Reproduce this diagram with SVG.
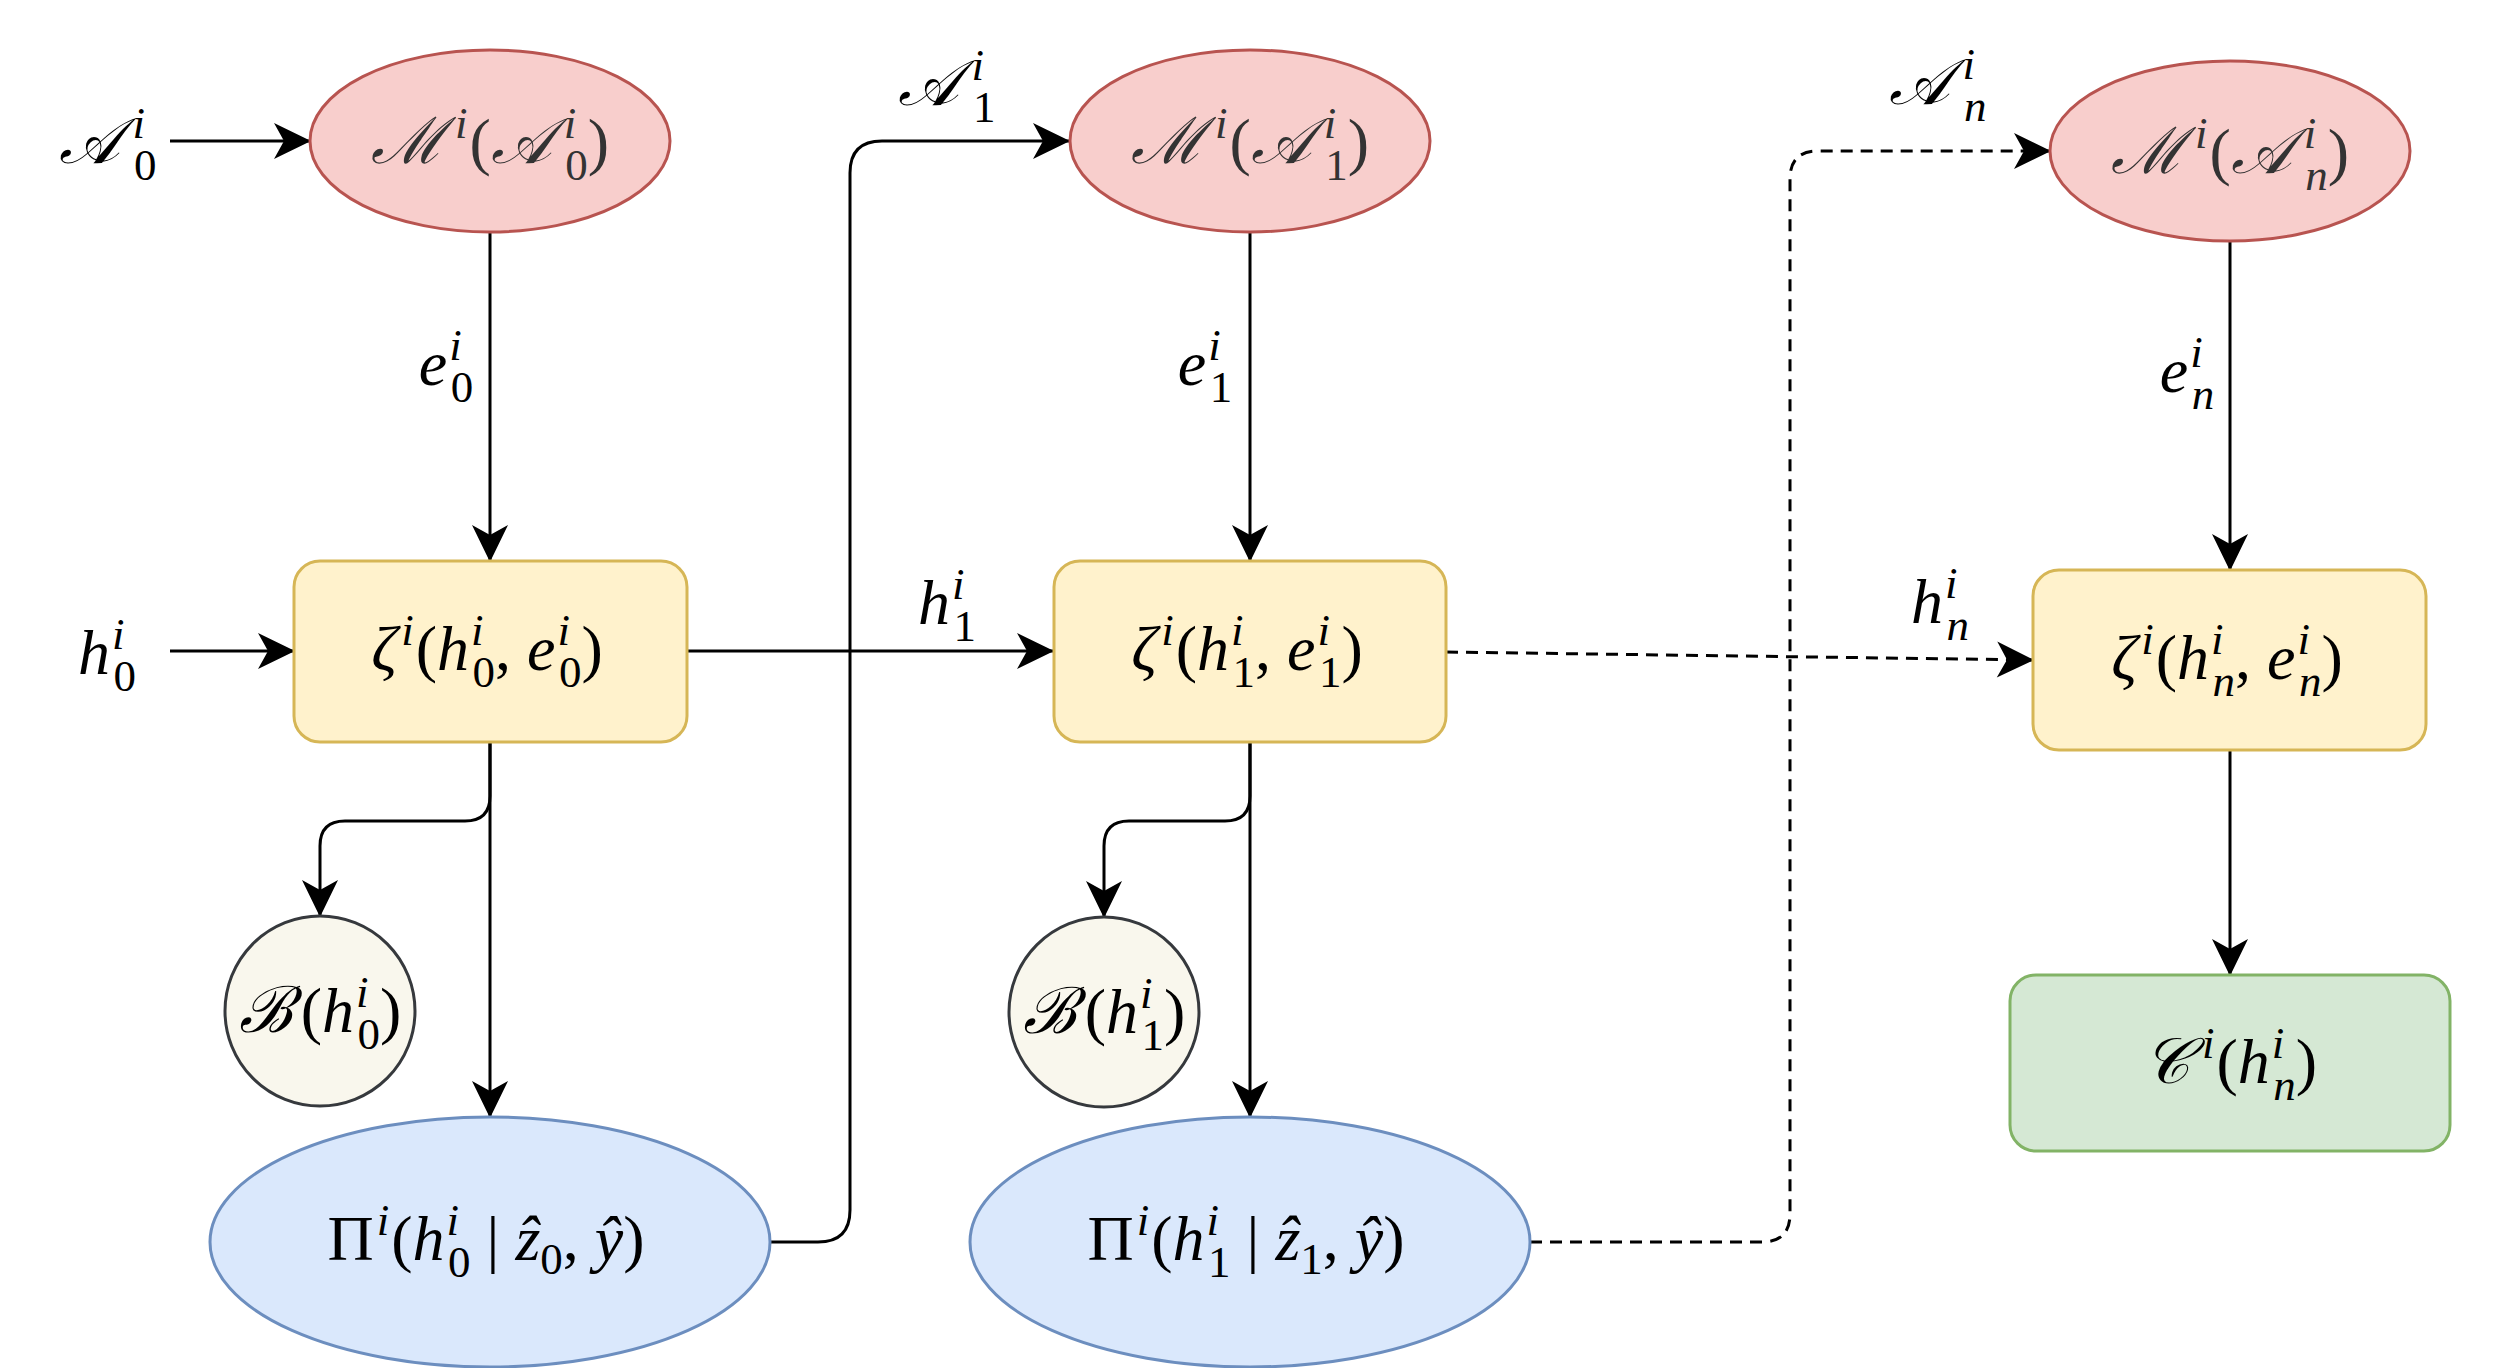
<svg xmlns="http://www.w3.org/2000/svg" width="2504" height="1368" viewBox="0 0 2504 1368">
<defs>
<style>
.t { font-family: "Liberation Serif", serif; font-size: 64px; fill: #000; }
.g { fill: #333333; }
.i { font-style: italic; }
.s { font-size: 45px; }
.e { fill: none; stroke: #000; stroke-width: 3; }
.d { stroke-dasharray: 12 8; }
.a { marker-end: url(#arr); }
.M { fill: #f8cecc; stroke: #b85450; stroke-width: 3; }
.Z { fill: #fff2cc; stroke: #d6b656; stroke-width: 3; }
.B { fill: #f9f7ed; stroke: #36393d; stroke-width: 3; }
.P { fill: #dae8fc; stroke: #6c8ebf; stroke-width: 3; }
.C { fill: #d5e8d4; stroke: #82b366; stroke-width: 3; }
</style>
<marker id="arr" markerUnits="userSpaceOnUse" markerWidth="38" markerHeight="38" viewBox="0 0 38 38" refX="37" refY="19" orient="auto">
<path d="M38,19 L1,1 L11,19 L1,37 Z" fill="#000"/>
</marker>
</defs>
<rect width="2504" height="1368" fill="#fff"/>

<g id="connectors">
<path class="e a" d="M170,141 H310"/>
<path class="e a" d="M490,232 V561"/>
<path class="e a" d="M170,651 H294"/>
<path class="e a" d="M687,651 H1053"/>
<path class="e a" d="M490,742 V796 Q490,821 465,821 H345 Q320,821 320,846 V916"/>
<path class="e a" d="M490,742 V1117"/>
<path class="e a" d="M769,1242 H818 Q850,1242 850,1210 V173 Q850,141 882,141 H1069"/>
<path class="e a" d="M1250,232 V561"/>
<path class="e a" d="M1250,741 V796 Q1250,821 1225,821 H1129 Q1104,821 1104,846 V917"/>
<path class="e a" d="M1250,741 V1117"/>
<path class="e d a" d="M1530,1242 H1762 Q1790,1242 1790,1214 V179 Q1790,151 1818,151 H2050"/>
<path class="e d a" d="M1446,652 L2033,660"/>
<path class="e a" d="M2230,241 V570"/>
<path class="e a" d="M2230,750 V975"/>

<g id="edge-labels">
<text class="t" x="108" y="163" text-anchor="middle"><tspan class="i">𝒜</tspan><tspan class="s i" dx="12" dy="-25">i</tspan><tspan class="s" dx="-11" dy="42">0</tspan></text>
<text class="t" x="107" y="674" text-anchor="middle"><tspan class="i">h</tspan><tspan class="s i" dx="2" dy="-25">i</tspan><tspan class="s" dx="-11" dy="42">0</tspan></text>
<text class="t" x="446" y="385" text-anchor="middle"><tspan class="i">e</tspan><tspan class="s i" dx="2" dy="-25">i</tspan><tspan class="s" dx="-11" dy="42">0</tspan></text>
<text class="t" x="947" y="105" text-anchor="middle"><tspan class="i">𝒜</tspan><tspan class="s i" dx="12" dy="-25">i</tspan><tspan class="s" dx="-11" dy="42">1</tspan></text>
<text class="t" x="947" y="624" text-anchor="middle"><tspan class="i">h</tspan><tspan class="s i" dx="2" dy="-25">i</tspan><tspan class="s" dx="-11" dy="42">1</tspan></text>
<text class="t" x="1205" y="385" text-anchor="middle"><tspan class="i">e</tspan><tspan class="s i" dx="2" dy="-25">i</tspan><tspan class="s" dx="-11" dy="42">1</tspan></text>
<text class="t" x="1938" y="104" text-anchor="middle"><tspan class="i">𝒜</tspan><tspan class="s i" dx="12" dy="-25">i</tspan><tspan class="s i" dx="-11" dy="42">n</tspan></text>
<text class="t" x="1940" y="623" text-anchor="middle"><tspan class="i">h</tspan><tspan class="s i" dx="2" dy="-25">i</tspan><tspan class="s i" dx="-11" dy="42">n</tspan></text>
<text class="t" x="2187" y="392" text-anchor="middle"><tspan class="i">e</tspan><tspan class="s i" dx="2" dy="-25">i</tspan><tspan class="s i" dx="-11" dy="42">n</tspan></text>
</g>
</g>

<g id="M0">
<ellipse class="M" cx="490" cy="141" rx="180" ry="91"/>
<text class="t g" x="490" y="163" text-anchor="middle"><tspan class="i">ℳ</tspan><tspan class="s i" dx="10" dy="-25">i</tspan><tspan dx="2" dy="25">(</tspan><tspan class="i">𝒜</tspan><tspan class="s i" dx="12" dy="-25">i</tspan><tspan class="s" dx="-11" dy="42">0</tspan><tspan dy="-17">)</tspan></text>
</g>
<g id="Z0">
<rect class="Z" x="294" y="561" width="393" height="181" rx="26"/>
<text class="t" x="487" y="670" text-anchor="middle"><tspan class="i">ζ</tspan><tspan class="s i" dx="4" dy="-25">i</tspan><tspan dx="2" dy="25">(</tspan><tspan class="i">h</tspan><tspan class="s i" dx="2" dy="-25">i</tspan><tspan class="s" dx="-11" dy="42">0</tspan><tspan dy="-17">, </tspan><tspan class="i">e</tspan><tspan class="s i" dx="2" dy="-25">i</tspan><tspan class="s" dx="-11" dy="42">0</tspan><tspan dy="-17">)</tspan></text>
</g>
<g id="B0">
<circle class="B" cx="320" cy="1011" r="95"/>
<text class="t" x="320" y="1032" text-anchor="middle"><tspan class="i">ℬ</tspan><tspan dx="8">(</tspan><tspan class="i">h</tspan><tspan class="s i" dx="2" dy="-25">i</tspan><tspan class="s" dx="-11" dy="42">0</tspan><tspan dy="-17">)</tspan></text>
</g>
<g id="P0">
<ellipse class="P" cx="490" cy="1242" rx="280" ry="125"/>
<text class="t" x="486" y="1260" text-anchor="middle"><tspan>Π</tspan><tspan class="s i" dx="3" dy="-25">i</tspan><tspan dx="2" dy="25">(</tspan><tspan class="i">h</tspan><tspan class="s i" dx="2" dy="-25">i</tspan><tspan class="s" dx="-11" dy="42">0</tspan><tspan dy="-17"> | </tspan><tspan class="i">ẑ</tspan><tspan class="s" dy="14">0</tspan><tspan dy="-14">, </tspan><tspan class="i">ŷ</tspan><tspan>)</tspan></text>
</g>

<g id="M1">
<ellipse class="M" cx="1250" cy="141" rx="180" ry="91"/>
<text class="t g" x="1250" y="163" text-anchor="middle"><tspan class="i">ℳ</tspan><tspan class="s i" dx="10" dy="-25">i</tspan><tspan dx="2" dy="25">(</tspan><tspan class="i">𝒜</tspan><tspan class="s i" dx="12" dy="-25">i</tspan><tspan class="s" dx="-11" dy="42">1</tspan><tspan dy="-17">)</tspan></text>
</g>
<g id="Z1">
<rect class="Z" x="1054" y="561" width="392" height="181" rx="26"/>
<text class="t" x="1247" y="670" text-anchor="middle"><tspan class="i">ζ</tspan><tspan class="s i" dx="4" dy="-25">i</tspan><tspan dx="2" dy="25">(</tspan><tspan class="i">h</tspan><tspan class="s i" dx="2" dy="-25">i</tspan><tspan class="s" dx="-11" dy="42">1</tspan><tspan dy="-17">, </tspan><tspan class="i">e</tspan><tspan class="s i" dx="2" dy="-25">i</tspan><tspan class="s" dx="-11" dy="42">1</tspan><tspan dy="-17">)</tspan></text>
</g>
<g id="B1">
<circle class="B" cx="1104" cy="1012" r="95"/>
<text class="t" x="1104" y="1033" text-anchor="middle"><tspan class="i">ℬ</tspan><tspan dx="8">(</tspan><tspan class="i">h</tspan><tspan class="s i" dx="2" dy="-25">i</tspan><tspan class="s" dx="-11" dy="42">1</tspan><tspan dy="-17">)</tspan></text>
</g>
<g id="P1">
<ellipse class="P" cx="1250" cy="1242" rx="280" ry="125"/>
<text class="t" x="1246" y="1260" text-anchor="middle"><tspan>Π</tspan><tspan class="s i" dx="3" dy="-25">i</tspan><tspan dx="2" dy="25">(</tspan><tspan class="i">h</tspan><tspan class="s i" dx="2" dy="-25">i</tspan><tspan class="s" dx="-11" dy="42">1</tspan><tspan dy="-17"> | </tspan><tspan class="i">ẑ</tspan><tspan class="s" dy="14">1</tspan><tspan dy="-14">, </tspan><tspan class="i">ŷ</tspan><tspan>)</tspan></text>
</g>

<g id="Mn">
<ellipse class="M" cx="2230" cy="151" rx="180" ry="90"/>
<text class="t g" x="2230" y="173" text-anchor="middle"><tspan class="i">ℳ</tspan><tspan class="s i" dx="10" dy="-25">i</tspan><tspan dx="2" dy="25">(</tspan><tspan class="i">𝒜</tspan><tspan class="s i" dx="12" dy="-25">i</tspan><tspan class="s i" dx="-11" dy="42">n</tspan><tspan dy="-17">)</tspan></text>
</g>
<g id="Zn">
<rect class="Z" x="2033" y="570" width="393" height="180" rx="26"/>
<text class="t" x="2227" y="679" text-anchor="middle"><tspan class="i">ζ</tspan><tspan class="s i" dx="4" dy="-25">i</tspan><tspan dx="2" dy="25">(</tspan><tspan class="i">h</tspan><tspan class="s i" dx="2" dy="-25">i</tspan><tspan class="s i" dx="-11" dy="42">n</tspan><tspan dy="-17">, </tspan><tspan class="i">e</tspan><tspan class="s i" dx="2" dy="-25">i</tspan><tspan class="s i" dx="-11" dy="42">n</tspan><tspan dy="-17">)</tspan></text>
</g>
<g id="Cn">
<rect class="C" x="2010" y="975" width="440" height="176" rx="26"/>
<text class="t" x="2230" y="1083" text-anchor="middle"><tspan class="i">𝒞</tspan><tspan class="s i" dx="12" dy="-25">i</tspan><tspan dx="2" dy="25">(</tspan><tspan class="i">h</tspan><tspan class="s i" dx="2" dy="-25">i</tspan><tspan class="s i" dx="-11" dy="42">n</tspan><tspan dy="-17">)</tspan></text>
</g>
</svg>
